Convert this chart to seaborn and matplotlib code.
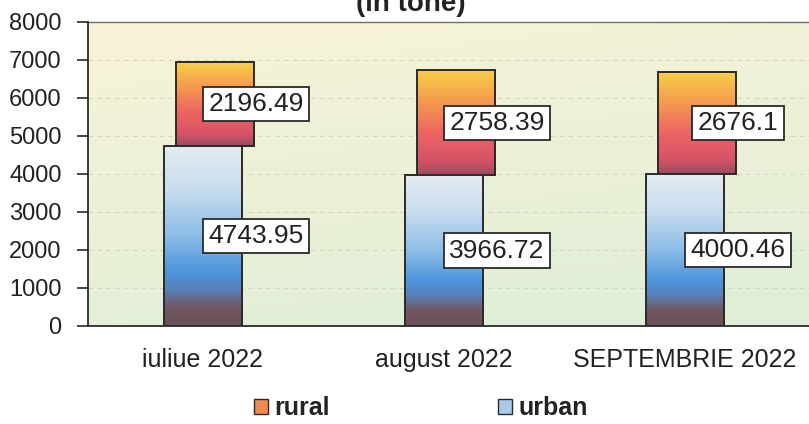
import numpy as np
import matplotlib
matplotlib.use('Agg')
import matplotlib.pyplot as plt
from matplotlib.colors import LinearSegmentedColormap
from matplotlib.patches import Patch
import seaborn as sns

MONTHS = ['iuliue 2022', 'august 2022', 'SEPTEMBRIE 2022']
URBAN = [4743.95, 3966.72, 4000.46]
RURAL = [2196.49, 2758.39, 2676.1]
SERIES = ['rural', 'urban']

sns.set_style('white')
plt.rcParams['font.family'] = ['Liberation Sans', 'DejaVu Sans']

TEXT = '#222222'
EDGE = '#2a2a2a'

rural_cmap = LinearSegmentedColormap.from_list('rural', [
    (0.0, '#9a4c5e'), (0.15, '#d85468'), (0.4, '#ec6463'),
    (0.7, '#f59a4f'), (1.0, '#f8d048'),
])
urban_cmap = LinearSegmentedColormap.from_list('urban', [
    (0.0, '#6b4f57'), (0.1, '#72565f'), (0.2, '#5a80b8'),
    (0.3, '#4e95dc'), (0.5, '#8dbde7'), (0.75, '#c8dcee'), (1.0, '#e4ecf2'),
])
bg_cmap = LinearSegmentedColormap.from_list('bg', ['#f7f3d8', '#e0eed7'])

fig = plt.figure(figsize=(8.09, 4.24), dpi=100)
ax = fig.add_axes([88 / 809, 1 - 326 / 424, 721 / 809, 304 / 424])

# plot-area gradient background: cream top-left to pale green bottom-right
yy, xx = np.mgrid[0:1:200j, 0:1:200j]
bg = np.clip(yy * 0.85 + xx * 0.25 - 0.05, 0, 1)
ax.imshow(bg, extent=[0, 1, 0, 1], transform=ax.transAxes, cmap=bg_cmap,
          origin='upper', aspect='auto', zorder=0)

sns.barplot(x=MONTHS, y=URBAN, ax=ax, width=0.325, color='white',
            edgecolor=EDGE, linewidth=1.4, zorder=3)
n_urban = len(ax.patches)
sns.barplot(x=MONTHS, y=RURAL, ax=ax, width=0.325, color='white',
            edgecolor=EDGE, linewidth=1.4, zorder=2)

urban_patches = ax.patches[:n_urban]
rural_patches = ax.patches[n_urban:]
shift = 0.05  # slight depth offset of the upper segment
for p, u, r in zip(rural_patches, URBAN, RURAL):
    p.set_y(u)
    p.set_height(r)
    p.set_x(p.get_x() + shift)

grad = np.linspace(0, 1, 256).reshape(-1, 1)
for patches, cmap, z in [(rural_patches, rural_cmap, 2), (urban_patches, urban_cmap, 3)]:
    for p in patches:
        x0, y0 = p.get_x(), p.get_y()
        w, h = p.get_width(), p.get_height()
        im = ax.imshow(grad, extent=[x0, x0 + w, y0, y0 + h], origin='lower',
                       cmap=cmap, aspect='auto', zorder=z - 0.1)
        im.set_clip_path(p)
        p.set_facecolor('none')

# value boxes
box = dict(boxstyle='square,pad=0.2', fc='white', ec=EDGE, lw=1.3)
for i, (u, r) in enumerate(zip(URBAN, RURAL)):
    ax.text(i + 0.22, u / 2, f'{u:g}', ha='center', va='center',
            fontsize=19, color=TEXT, bbox=box, zorder=5)
    ax.text(i + 0.22, u + r / 2, f'{r:g}', ha='center', va='center',
            fontsize=19, color=TEXT, bbox=box, zorder=5)

ax.set_xlim(-0.477, 2.515)
ax.set_ylim(0, 8000)
ax.set_yticks(range(0, 8001, 1000))
ax.yaxis.grid(True, color='#d6d6c6', lw=0.8, ls=(0, (4, 4)))
for line in ax.get_ygridlines():
    line.set_zorder(1)
ax.set_xlabel('')
ax.set_ylabel('')

ax.set_xticks([0, 1, 2])
ax.set_xticklabels(MONTHS)
ax.set_xticks([0.5, 1.5], minor=True)
ax.tick_params(axis='x', which='major', length=0, pad=16, labelsize=18,
               labelcolor=TEXT)
ax.tick_params(axis='x', which='minor', length=7, width=1.2, color=EDGE,
               direction='out')
ax.tick_params(axis='y', length=8, width=1.2, color=EDGE, pad=11,
               labelsize=17, labelcolor=TEXT, direction='out', left=True)

for side in ['left', 'bottom']:
    ax.spines[side].set_color(EDGE)
    ax.spines[side].set_linewidth(1.3)
ax.spines['top'].set_color('#6e6e6e')
ax.spines['top'].set_linewidth(1.0)
ax.spines['top'].set_zorder(2)
ax.spines['right'].set_visible(False)

fig.text(0.508, 1 - 11 / 424, '(in tone)', ha='center', va='baseline',
         fontsize=20, fontweight='bold', color=TEXT)

handles = [
    Patch(facecolor='#f08a52', edgecolor=EDGE, lw=1.0),
    Patch(facecolor='#a9cbe9', edgecolor=EDGE, lw=1.0),
]
fig.legend(handles, SERIES, loc='center', bbox_to_anchor=(0.52, 1 - 408 / 424),
           ncol=2, frameon=False, handlelength=0.55, handleheight=0.55,
           handletextpad=0.25, columnspacing=6.75,
           prop={'size': 18, 'weight': 'bold'}, labelcolor=TEXT)

fig.savefig('out.png', dpi=100)
